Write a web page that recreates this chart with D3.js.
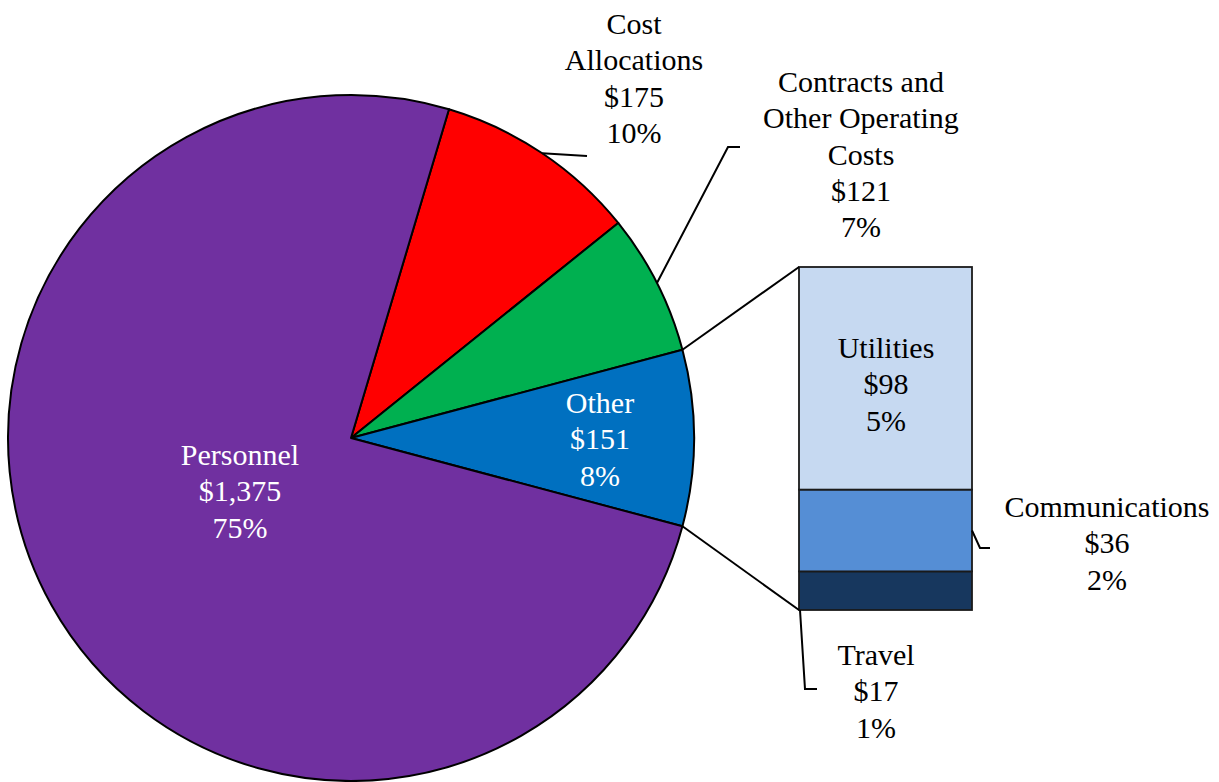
<!DOCTYPE html>
<html>
<head>
<meta charset="utf-8">
<script src="https://cdn.jsdelivr.net/npm/d3@7"></script>
<style>
  html, body { margin: 0; padding: 0; background: #fff; }
  svg { display: block; }
</style>
</head>
<body>
<svg id="chart" width="1219" height="782"></svg>
<script>
// ---- Data ----
const pieCategories = ["Cost Allocations", "Contracts and Other Operating Costs", "Other", "Personnel"];
const pieValues = [175, 121, 151, 1375];
const piePercents = ["10%", "7%", "8%", "75%"];
const pieLabelLines = [["Cost", "Allocations"], ["Contracts and", "Other Operating", "Costs"], ["Other"], ["Personnel"]];

const barCategories = ["Travel", "Communications", "Utilities"];
const barValues = [17, 36, 98];
const barPercents = ["1%", "2%", "5%"];

const pieColors = ["#FF0000", "#00B050", "#0070C0", "#7030A0"];
const barColors = ["#17375E", "#558ED5", "#C6D9F1"];

// ---- Layout ----
const FONT = "'Liberation Serif', Tinos, 'Times New Roman', 'DejaVu Serif', serif";
const svg = d3.select("#chart");
const cx = 351, cy = 438, r = 343;
const fmt = d3.format(",");

const total = d3.sum(pieValues);
const otherIdx = 2;
const before = pieValues[0] + pieValues[1];
const startA = Math.PI / 2 - (before + pieValues[otherIdx] / 2) / total * 2 * Math.PI;

const pie = d3.pie().sort(null).value(d => d)
  .startAngle(startA).endAngle(startA + 2 * Math.PI);
const arcs = pie(pieValues);
const arc = d3.arc().innerRadius(0).outerRadius(r);

const g = svg.append("g").attr("transform", `translate(${cx},${cy})`);
g.selectAll("path").data(arcs).join("path")
  .attr("d", arc)
  .attr("fill", (d, i) => pieColors[i])
  .attr("stroke", "#000")
  .attr("stroke-width", 2)
  .attr("stroke-linejoin", "round");

function polar(a, rr) { return [cx + rr * Math.sin(a), cy - rr * Math.cos(a)]; }

// ---- Bar of pie ----
const barX0 = 799, barX1 = 972, barTop = 267, barBottom = 610;
const y = d3.scaleLinear().domain([0, d3.sum(barValues)]).range([barBottom, barTop]);
let cum = 0;
const stacked = barValues.map((v, i) => { const s = { y0: cum, y1: cum + v, i }; cum += v; return s; });
svg.append("g").selectAll("rect").data(stacked).join("rect")
  .attr("x", barX0)
  .attr("y", d => y(d.y1))
  .attr("width", barX1 - barX0)
  .attr("height", d => y(d.y0) - y(d.y1))
  .attr("fill", d => barColors[d.i])
  .attr("stroke", "#1a1a1a")
  .attr("stroke-width", 1.8);

// connector lines
const oArc = arcs[otherIdx];
const pUp = polar(oArc.startAngle, r), pDn = polar(oArc.endAngle, r);
const lines = svg.append("g").attr("stroke", "#000").attr("stroke-width", 2).attr("fill", "none");
lines.append("line").attr("x1", pUp[0]).attr("y1", pUp[1]).attr("x2", barX0).attr("y2", barTop);
lines.append("line").attr("x1", pDn[0]).attr("y1", pDn[1]).attr("x2", barX0).attr("y2", barBottom);

// leader lines
const midA = d => (d.startAngle + d.endAngle) / 2;
const costP = polar(midA(arcs[0]), r);
lines.append("path").attr("d", `M${costP[0]},${costP[1]} L587,156`);
const contP = polar(midA(arcs[1]), r);
lines.append("path").attr("d", `M${contP[0]},${contP[1]} L728,147 L740,147`);
const commY = (y(stacked[1].y0) + y(stacked[1].y1)) / 2;
lines.append("path").attr("d", `M${barX1},${commY} L980,548 L990,548`);
lines.append("path").attr("d", `M${barX0 + 1},${barBottom} L805,689 L817,689`);

// ---- Labels ----
function label(x, y0, linesArr, color) {
  const t = svg.append("text").attr("text-anchor", "middle").attr("fill", color)
    .attr("font-family", FONT).attr("font-size", 30).style("font-family", FONT);
  linesArr.forEach((s, k) => t.append("tspan").attr("x", x).attr("y", y0 + k * 36.3).text(s));
}
const pieLabelPos = [[634, 34], [861, 92], [600, 413], [240, 465]];
const pieLabelColor = ["#000", "#000", "#fff", "#fff"];
pieValues.forEach((v, i) => {
  label(pieLabelPos[i][0], pieLabelPos[i][1],
    [...pieLabelLines[i], "$" + fmt(v), piePercents[i]], pieLabelColor[i]);
});
const barLabelPos = [[876, 665], [1107, 517], [886, 358]];
barValues.forEach((v, i) => {
  label(barLabelPos[i][0], barLabelPos[i][1], [barCategories[i], "$" + fmt(v), barPercents[i]], "#000");
});
</script>
</body>
</html>
